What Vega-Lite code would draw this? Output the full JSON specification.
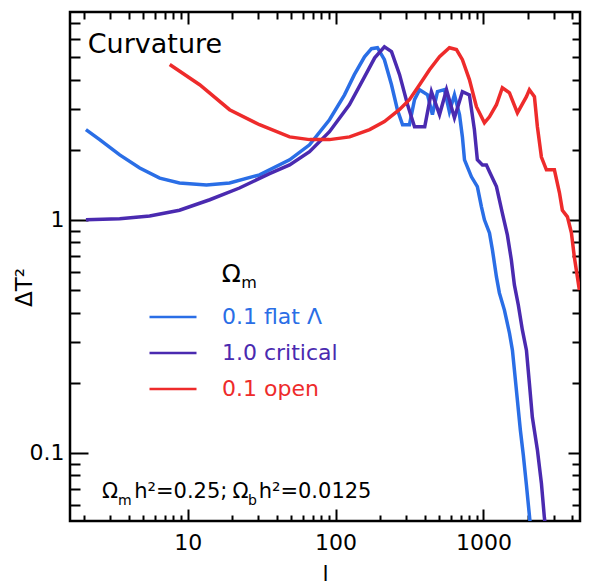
{
  "$schema": "https://vega.github.io/schema/vega-lite/v6.json",
  "width": 510,
  "height": 509,
  "autosize": "none",
  "padding": {"left": 70, "top": 12, "right": 9, "bottom": 66},
  "background": "white",
  "config": {
    "view": {"stroke": "#000", "strokeWidth": 2.5},
    "font": "DejaVu Sans",
    "axis": {"domain": false, "grid": false, "tickColor": "#000", "tickWidth": 2, "labelFont": "DejaVu Sans", "labelFontSize": 22, "labelColor": "#000", "titleColor": "#000", "titleFont": "DejaVu Sans", "titleFontWeight": "normal"}
  },
  "datasets": {
    "one": [{}],
    "curves": [
      {"model": "flat Λ", "l": 2.05, "dT2": 2.44},
      {"model": "flat Λ", "l": 2.54, "dT2": 2.21},
      {"model": "flat Λ", "l": 3.47, "dT2": 1.90},
      {"model": "flat Λ", "l": 4.74, "dT2": 1.67},
      {"model": "flat Λ", "l": 6.47, "dT2": 1.51},
      {"model": "flat Λ", "l": 8.8, "dT2": 1.44},
      {"model": "flat Λ", "l": 13.4, "dT2": 1.41},
      {"model": "flat Λ", "l": 19.2, "dT2": 1.44},
      {"model": "flat Λ", "l": 30.6, "dT2": 1.56},
      {"model": "flat Λ", "l": 48.9, "dT2": 1.81},
      {"model": "flat Λ", "l": 66.7, "dT2": 2.10},
      {"model": "flat Λ", "l": 91, "dT2": 2.69},
      {"model": "flat Λ", "l": 115, "dT2": 3.44},
      {"model": "flat Λ", "l": 134, "dT2": 4.20},
      {"model": "flat Λ", "l": 157, "dT2": 5.01},
      {"model": "flat Λ", "l": 175, "dT2": 5.43},
      {"model": "flat Λ", "l": 192, "dT2": 5.48},
      {"model": "flat Λ", "l": 214, "dT2": 4.87},
      {"model": "flat Λ", "l": 239, "dT2": 3.80},
      {"model": "flat Λ", "l": 262, "dT2": 2.97},
      {"model": "flat Λ", "l": 284, "dT2": 2.56},
      {"model": "flat Λ", "l": 316, "dT2": 2.56},
      {"model": "flat Λ", "l": 342, "dT2": 3.28},
      {"model": "flat Λ", "l": 370, "dT2": 3.62},
      {"model": "flat Λ", "l": 419, "dT2": 3.44},
      {"model": "flat Λ", "l": 452, "dT2": 2.83},
      {"model": "flat Λ", "l": 489, "dT2": 3.55},
      {"model": "flat Λ", "l": 545, "dT2": 3.62},
      {"model": "flat Λ", "l": 589, "dT2": 2.91},
      {"model": "flat Λ", "l": 637, "dT2": 3.44},
      {"model": "flat Λ", "l": 689, "dT2": 2.83},
      {"model": "flat Λ", "l": 721, "dT2": 2.27},
      {"model": "flat Λ", "l": 745, "dT2": 1.81},
      {"model": "flat Λ", "l": 830, "dT2": 1.53},
      {"model": "flat Λ", "l": 910, "dT2": 1.39},
      {"model": "flat Λ", "l": 969, "dT2": 1.14},
      {"model": "flat Λ", "l": 1016, "dT2": 1.0},
      {"model": "flat Λ", "l": 1099, "dT2": 0.879},
      {"model": "flat Λ", "l": 1151, "dT2": 0.743},
      {"model": "flat Λ", "l": 1225, "dT2": 0.569},
      {"model": "flat Λ", "l": 1282, "dT2": 0.486},
      {"model": "flat Λ", "l": 1387, "dT2": 0.410},
      {"model": "flat Λ", "l": 1500, "dT2": 0.327},
      {"model": "flat Λ", "l": 1571, "dT2": 0.276},
      {"model": "flat Λ", "l": 1620, "dT2": 0.227},
      {"model": "flat Λ", "l": 1698, "dT2": 0.168},
      {"model": "flat Λ", "l": 1778, "dT2": 0.125},
      {"model": "flat Λ", "l": 1862, "dT2": 0.0977},
      {"model": "flat Λ", "l": 1954, "dT2": 0.0727},
      {"model": "flat Λ", "l": 2046, "dT2": 0.054},
      {"model": "flat Λ", "l": 2110, "dT2": 0.0443},

      {"model": "critical", "l": 2.05, "dT2": 1.0},
      {"model": "critical", "l": 3.47, "dT2": 1.01},
      {"model": "critical", "l": 5.53, "dT2": 1.04},
      {"model": "critical", "l": 8.8, "dT2": 1.10},
      {"model": "critical", "l": 14.1, "dT2": 1.22},
      {"model": "critical", "l": 22.4, "dT2": 1.37},
      {"model": "critical", "l": 35.8, "dT2": 1.58},
      {"model": "critical", "l": 48.9, "dT2": 1.72},
      {"model": "critical", "l": 66.7, "dT2": 1.96},
      {"model": "critical", "l": 91, "dT2": 2.39},
      {"model": "critical", "l": 124, "dT2": 3.12},
      {"model": "critical", "l": 157, "dT2": 4.11},
      {"model": "critical", "l": 184, "dT2": 4.96},
      {"model": "critical", "l": 214, "dT2": 5.53},
      {"model": "critical", "l": 239, "dT2": 5.27},
      {"model": "critical", "l": 271, "dT2": 4.20},
      {"model": "critical", "l": 307, "dT2": 3.12},
      {"model": "critical", "l": 342, "dT2": 2.51},
      {"model": "critical", "l": 401, "dT2": 2.51},
      {"model": "critical", "l": 445, "dT2": 3.55},
      {"model": "critical", "l": 505, "dT2": 2.83},
      {"model": "critical", "l": 563, "dT2": 3.62},
      {"model": "critical", "l": 637, "dT2": 2.74},
      {"model": "critical", "l": 721, "dT2": 3.55},
      {"model": "critical", "l": 804, "dT2": 3.44},
      {"model": "critical", "l": 869, "dT2": 2.44},
      {"model": "critical", "l": 910, "dT2": 1.81},
      {"model": "critical", "l": 985, "dT2": 1.72},
      {"model": "critical", "l": 1048, "dT2": 1.72},
      {"model": "critical", "l": 1099, "dT2": 1.61},
      {"model": "critical", "l": 1225, "dT2": 1.39},
      {"model": "critical", "l": 1343, "dT2": 1.07},
      {"model": "critical", "l": 1452, "dT2": 0.862},
      {"model": "critical", "l": 1545, "dT2": 0.673},
      {"model": "critical", "l": 1620, "dT2": 0.526},
      {"model": "critical", "l": 1722, "dT2": 0.431},
      {"model": "critical", "l": 1834, "dT2": 0.337},
      {"model": "critical", "l": 1954, "dT2": 0.276},
      {"model": "critical", "l": 2046, "dT2": 0.199},
      {"model": "critical", "l": 2143, "dT2": 0.142},
      {"model": "critical", "l": 2318, "dT2": 0.103},
      {"model": "critical", "l": 2467, "dT2": 0.0741},
      {"model": "critical", "l": 2583, "dT2": 0.0529},
      {"model": "critical", "l": 2667, "dT2": 0.0443},

      {"model": "open", "l": 7.56, "dT2": 4.64},
      {"model": "open", "l": 12.05, "dT2": 3.80},
      {"model": "open", "l": 19.2, "dT2": 2.97},
      {"model": "open", "l": 30.6, "dT2": 2.56},
      {"model": "open", "l": 48.9, "dT2": 2.27},
      {"model": "open", "l": 66.7, "dT2": 2.21},
      {"model": "open", "l": 91, "dT2": 2.21},
      {"model": "open", "l": 124.5, "dT2": 2.27},
      {"model": "open", "l": 170, "dT2": 2.44},
      {"model": "open", "l": 214, "dT2": 2.64},
      {"model": "open", "l": 270, "dT2": 2.97},
      {"model": "open", "l": 316, "dT2": 3.28},
      {"model": "open", "l": 370, "dT2": 3.80},
      {"model": "open", "l": 432, "dT2": 4.41},
      {"model": "open", "l": 505, "dT2": 5.02},
      {"model": "open", "l": 589, "dT2": 5.48},
      {"model": "open", "l": 657, "dT2": 5.38},
      {"model": "open", "l": 721, "dT2": 4.87},
      {"model": "open", "l": 804, "dT2": 4.0},
      {"model": "open", "l": 897, "dT2": 3.06},
      {"model": "open", "l": 1016, "dT2": 2.61},
      {"model": "open", "l": 1099, "dT2": 2.77},
      {"model": "open", "l": 1225, "dT2": 3.12},
      {"model": "open", "l": 1343, "dT2": 3.69},
      {"model": "open", "l": 1500, "dT2": 3.51},
      {"model": "open", "l": 1698, "dT2": 2.88},
      {"model": "open", "l": 1954, "dT2": 3.38},
      {"model": "open", "l": 2046, "dT2": 3.62},
      {"model": "open", "l": 2213, "dT2": 3.38},
      {"model": "open", "l": 2318, "dT2": 2.51},
      {"model": "open", "l": 2467, "dT2": 1.86},
      {"model": "open", "l": 2667, "dT2": 1.64},
      {"model": "open", "l": 3020, "dT2": 1.64},
      {"model": "open", "l": 3266, "dT2": 1.31},
      {"model": "open", "l": 3420, "dT2": 1.10},
      {"model": "open", "l": 3700, "dT2": 1.03},
      {"model": "open", "l": 3936, "dT2": 0.879},
      {"model": "open", "l": 4120, "dT2": 0.693},
      {"model": "open", "l": 4456, "dT2": 0.50}
    ]
  },
  "layer": [
    {
      "data": {"name": "curves"},
      "mark": {"type": "line", "strokeWidth": 3.5, "clip": true},
      "encoding": {
        "x": {"field": "l", "type": "quantitative",
          "scale": {"type": "log", "domain": [1.6, 4500], "nice": false},
          "axis": {"orient": "bottom", "values": [10, 100, 1000], "format": "d", "tickSize": -12, "labelPadding": 23, "title": "l", "titleFontSize": 22, "titleY": 59, "titleBaseline": "alphabetic"}},
        "y": {"field": "dT2", "type": "quantitative",
          "scale": {"type": "log", "domain": [0.051, 7.8], "nice": false},
          "axis": {"orient": "left", "values": [0.1, 1], "labelExpr": "datum.value == 1 ? '1' : '0.1'", "tickSize": -18, "labelPadding": 24, "title": "ΔT²", "titleFontSize": 23, "titleX": -34, "titleY": 275}},
        "color": {"field": "model", "type": "nominal",
          "scale": {"domain": ["flat Λ", "critical", "open"], "range": ["#2a6ee6", "#4a2ab0", "#ee2b2b"]},
          "legend": {"orient": "none", "legendX": 78, "legendY": 280, "padding": 0, "title": null,
            "symbolType": "stroke", "symbolSize": 2209, "symbolStrokeWidth": 2.5,
            "labelFont": "DejaVu Sans", "labelFontSize": 22, "labelOffset": 24, "rowPadding": -14,
            "labelExpr": "datum.label == 'flat Λ' ? '0.1     flat Λ' : datum.label == 'critical' ? '1.0     critical' : '0.1     open'",
            "labelColor": {"expr": "scale('color', datum.value)"}}}
      }
    },
    {
      "data": {"name": "curves"},
      "mark": {"type": "point", "opacity": 0},
      "encoding": {
        "x": {"field": "l", "type": "quantitative",
          "axis": {"orient": "bottom", "values": [2,3,4,5,6,7,8,9,20,30,40,50,60,70,80,90,200,300,400,500,600,700,800,900,2000,3000,4000], "tickSize": -6, "labels": false, "title": null}},
        "y": {"field": "dT2", "type": "quantitative",
          "axis": {"orient": "left", "values": [0.06,0.07,0.08,0.09,0.2,0.3,0.4,0.5,0.6,0.7,0.8,0.9,2,3,4,5,6,7], "tickSize": -10, "labels": false, "title": null}}
      }
    },
    {
      "data": {"name": "curves"},
      "mark": {"type": "point", "opacity": 0},
      "encoding": {
        "x": {"field": "l", "type": "quantitative",
          "axis": {"orient": "top", "values": [10, 100, 1000], "tickSize": -12, "labels": false, "title": null}},
        "y": {"field": "dT2", "type": "quantitative",
          "axis": {"orient": "right", "values": [0.1, 1], "tickSize": -12, "labels": false, "title": null}}
      }
    },
    {
      "data": {"name": "curves"},
      "mark": {"type": "point", "opacity": 0},
      "encoding": {
        "x": {"field": "l", "type": "quantitative",
          "axis": {"orient": "top", "values": [2,3,4,5,6,7,8,9,20,30,40,50,60,70,80,90,200,300,400,500,600,700,800,900,2000,3000,4000], "tickSize": -7, "labels": false, "title": null}},
        "y": {"field": "dT2", "type": "quantitative",
          "axis": {"orient": "right", "values": [0.06,0.07,0.08,0.09,0.2,0.3,0.4,0.5,0.6,0.7,0.8,0.9,2,3,4,5,6,7], "tickSize": -8, "labels": false, "title": null}}
      }
    },
    {
      "data": {"name": "one"},
      "mark": {"type": "text", "text": "Curvature", "fontSize": 27, "align": "left", "baseline": "alphabetic", "color": "#000", "letterSpacing": 0.5},
      "encoding": {"x": {"datum": 2.11, "type": "quantitative", "axis": null}, "y": {"datum": 5.22, "type": "quantitative", "axis": null}}
    },
    {
      "data": {"name": "one"},
      "mark": {"type": "text", "text": "Ω", "fontSize": 25, "align": "left", "baseline": "alphabetic", "color": "#000"},
      "encoding": {"x": {"datum": 16.97, "type": "quantitative", "axis": null}, "y": {"datum": 0.5416, "type": "quantitative", "axis": null}}
    },
    {
      "data": {"name": "one"},
      "mark": {"type": "text", "text": "m", "fontSize": 16, "align": "left", "baseline": "alphabetic", "color": "#000"},
      "encoding": {"x": {"datum": 23.0, "type": "quantitative", "axis": null}, "y": {"datum": 0.51, "type": "quantitative", "axis": null}}
    },
    {
      "data": {"name": "one"},
      "mark": {"type": "text", "text": "Ω", "fontSize": 21, "align": "left", "baseline": "alphabetic", "color": "#000"},
      "encoding": {"x": {"datum": 2.63, "type": "quantitative", "axis": null}, "y": {"datum": 0.0639, "type": "quantitative", "axis": null}}
    },
    {
      "data": {"name": "one"},
      "mark": {"type": "text", "text": "m", "fontSize": 14, "align": "left", "baseline": "alphabetic", "color": "#000"},
      "encoding": {"x": {"datum": 3.38, "type": "quantitative", "axis": null}, "y": {"datum": 0.0596, "type": "quantitative", "axis": null}}
    },
    {
      "data": {"name": "one"},
      "mark": {"type": "text", "text": "h²=0.25;", "fontSize": 21, "align": "left", "baseline": "alphabetic", "color": "#000"},
      "encoding": {"x": {"datum": 4.35, "type": "quantitative", "axis": null}, "y": {"datum": 0.0639, "type": "quantitative", "axis": null}}
    },
    {
      "data": {"name": "one"},
      "mark": {"type": "text", "text": "Ω", "fontSize": 21, "align": "left", "baseline": "alphabetic", "color": "#000"},
      "encoding": {"x": {"datum": 20.1, "type": "quantitative", "axis": null}, "y": {"datum": 0.0639, "type": "quantitative", "axis": null}}
    },
    {
      "data": {"name": "one"},
      "mark": {"type": "text", "text": "b", "fontSize": 14, "align": "left", "baseline": "alphabetic", "color": "#000"},
      "encoding": {"x": {"datum": 25.6, "type": "quantitative", "axis": null}, "y": {"datum": 0.0596, "type": "quantitative", "axis": null}}
    },
    {
      "data": {"name": "one"},
      "mark": {"type": "text", "text": "h²=0.0125", "fontSize": 21, "align": "left", "baseline": "alphabetic", "color": "#000"},
      "encoding": {"x": {"datum": 30.2, "type": "quantitative", "axis": null}, "y": {"datum": 0.0639, "type": "quantitative", "axis": null}}
    }
  ],
  "resolve": {"axis": {"x": "independent", "y": "independent"}}
}
